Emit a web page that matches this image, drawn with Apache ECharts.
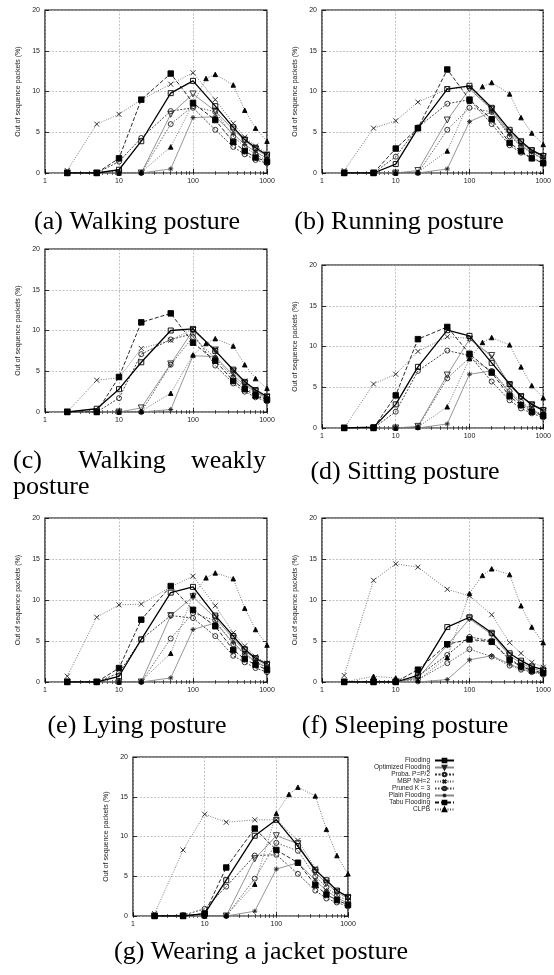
<!DOCTYPE html>
<html>
<head>
<meta charset="utf-8">
<script src="https://cdn.jsdelivr.net/npm/echarts@6/dist/echarts.min.js"></script>
<style>
  html, body { margin: 0; padding: 0; background: #fff; }
  #chart { width: 554px; height: 975px; }
</style>
</head>
<body>
<div id="chart"></div>
<script>
// Network size (number of nodes) sampled on every curve
const xValues = [2, 5, 10, 20, 50, 100, 150, 200, 350, 500, 700, 1000];

const seriesNames = ['Flooding', 'Optimized Flooding', 'Proba. P=P/2', 'MBP NH=2',
                     'Pruned K = 3', 'Plain Flooding', 'Tabu Flooding', 'CLPB'];

const yTicks = [0, 5, 10, 15, 20];

// Out of sequence packets (%), one row per posture (a)..(g); null = not sampled
const flooding = [
  [0, 0, 0.4, 3.9, 9.8, 11.3, null, 8.2, 5.6, 4.1, 3.1, 2.2],
  [0, 0, 1.1, 5.5, 10.3, 10.7, null, 8.0, 5.3, 3.9, 2.8, 2.1],
  [0, 0.4, 2.8, 6.1, 10.0, 10.2, null, 7.5, 5.2, 3.7, 2.7, 1.9],
  [0, 0.1, 2.9, 7.5, 12.0, 11.3, null, 8.0, 5.4, 3.9, 2.9, 2.2],
  [0, 0, 0.7, 5.2, 10.9, 11.6, null, 8.1, 5.6, 4.0, 2.9, 2.2],
  [0, 0, 0, 0.8, 6.7, 7.9, null, 6.0, 3.5, 2.6, 1.9, 1.5],
  [0, 0, 0.3, 4.5, 10.1, 12.1, null, 8.8, 5.8, 4.5, 3.2, 2.4]
];
const optimizedFlooding = [
  [0, 0, 0, 0, 7.2, 9.7, null, 7.6, 5.3, 4.0, 2.9, 2.1],
  [0, 0, 0, 0.3, 6.5, 10.3, null, 7.8, 5.0, 3.7, 2.7, 2.0],
  [0, 0, 0, 0.5, 5.9, 10.0, null, 7.6, 5.0, 3.5, 2.5, 1.8],
  [0, 0, 0, 0.2, 6.5, 10.9, null, 8.9, 5.2, 3.8, 2.8, 2.1],
  [0, 0, 0, 0, 8.1, 10.4, null, 7.8, 5.3, 3.8, 2.8, 2.0],
  [0, 0, 0, 0.5, 4.5, 7.7, null, 5.8, 3.2, 2.3, 1.7, 1.3],
  [0, 0, 0, 0, 7.2, 10.1, null, 9.1, 5.5, 4.1, 3.0, 2.2]
];
const probaHalf = [
  [0, 0, 1.4, 4.3, 7.6, 8.0, null, 5.3, 3.2, 2.3, 1.6, 1.2],
  [0, 0, 2.0, 5.6, 8.5, 9.0, null, 6.0, 3.4, 2.5, 1.8, 1.3],
  [0, 0, 1.7, 7.1, 8.9, 9.6, null, 5.7, 3.5, 2.5, 1.8, 1.3],
  [0, 0, 2.0, 7.0, 9.5, 8.9, null, 5.7, 3.4, 2.4, 1.8, 1.3],
  [0, 0, 1.1, 5.2, 8.1, 7.8, null, 5.6, 3.2, 2.4, 1.7, 1.2],
  [0, 0, 0, 0.7, 3.3, 5.5, null, 5.0, 2.8, 2.0, 1.5, 1.1],
  [0, 0.1, 0.9, 3.7, 7.6, 7.7, null, 5.3, 3.2, 2.2, 1.7, 1.2]
];
const mbpNh2 = [
  [0.3, 6.0, 7.2, 9.0, 10.9, 12.3, null, 9.0, 6.1, 4.4, 3.3, 2.4],
  [0.3, 5.5, 6.4, 8.7, 10.3, 10.5, null, 7.8, 4.8, 3.6, 2.7, 2.0],
  [0, 3.9, 4.2, 7.8, 8.8, 10.2, null, 7.7, 5.0, 3.8, 2.8, 2.0],
  [0, 5.4, 6.6, 9.4, 11.2, 11.0, null, 8.7, 5.4, 4.0, 2.9, 2.1],
  [0.7, 7.9, 9.4, 9.5, 11.6, 12.9, null, 9.3, 6.0, 4.4, 3.1, 2.3],
  [0.8, 12.4, 14.4, 14.0, 11.3, 10.5, null, 8.2, 4.8, 3.5, 2.4, 1.8],
  [0.3, 8.3, 12.8, 11.8, 12.1, 12.1, null, 9.5, 6.0, 4.4, 3.2, 2.4]
];
const prunedK3 = [
  [0, 0, 0, 0, 6.0, 8.2, null, 7.5, 4.5, 3.2, 2.3, 1.5],
  [0, 0, 0, 0, 5.3, 8.0, null, 7.5, 4.5, 3.3, 2.4, 1.7],
  [0, 0, 0, 0, 5.8, 9.2, null, 6.6, 4.2, 3.0, 2.2, 1.6],
  [0, 0, 0, 0.1, 6.1, 8.6, null, 7.0, 4.5, 3.2, 2.3, 1.6],
  [0, 0, 0, 0, 5.3, 8.4, null, 7.5, 4.6, 3.4, 2.4, 1.7],
  [0, 0, 0, 0.3, 2.3, 4.0, null, 3.1, 2.0, 1.5, 1.2, 0.9],
  [0, 0, 0, 0, 4.7, 9.2, null, 8.2, 5.0, 3.6, 2.6, 1.9]
];
const plainFlooding = [
  [0, 0, 0, 0, 0.5, 6.8, null, 6.9, 4.8, 3.5, 2.6, 1.8],
  [0, 0, 0, 0, 0.5, 6.3, null, 7.5, 4.7, 3.4, 2.5, 1.8],
  [0, 0, 0, 0, 0.3, 6.9, null, 6.8, 4.5, 3.3, 2.4, 1.7],
  [0, 0, 0, 0, 0.5, 6.6, null, 7.0, 4.3, 3.0, 2.2, 1.5],
  [0, 0, 0, 0, 0.5, 6.4, null, 7.2, 4.8, 3.5, 2.5, 1.8],
  [0, 0, 0, 0, 0.3, 2.7, null, 3.2, 2.2, 1.6, 1.3, 1.0],
  [0, 0, 0, 0, 0.6, 5.9, null, 6.7, 4.5, 3.2, 2.3, 1.6]
];
const tabuFlooding = [
  [0, 0, 1.8, 9.0, 12.2, 8.6, null, 6.5, 3.8, 2.7, 1.9, 1.4],
  [0, 0, 3.0, 5.5, 12.7, 9.0, null, 6.6, 3.7, 2.7, 1.8, 1.2],
  [0, 0, 4.3, 11.0, 12.1, 8.5, null, 6.3, 3.8, 2.8, 2.0, 1.5],
  [0, 0, 4.0, 10.9, 12.4, 9.1, null, 6.8, 3.9, 2.8, 2.0, 1.5],
  [0, 0, 1.7, 7.6, 11.7, 8.8, null, 6.8, 3.9, 2.8, 2.1, 1.5],
  [0, 0, 0, 1.5, 4.6, 5.2, null, 4.9, 2.7, 1.9, 1.4, 1.1],
  [0, 0, 0.3, 6.1, 11.0, 8.3, null, 6.7, 3.9, 2.7, 2.0, 1.4]
];
const clpb = [
  [0, 0, 0, 0.1, 3.2, 8.5, 11.6, 12.1, 10.8, 7.7, 5.5, 3.9],
  [0, 0, 0, 0.1, 2.7, 8.8, 10.6, 11.1, 9.7, 6.8, 4.9, 3.5],
  [0, 0, 0, 0.1, 2.3, 7.0, 8.4, 9.0, 8.1, 5.8, 4.1, 2.9],
  [0, 0, 0, 0.1, 2.6, 8.5, 10.5, 11.1, 10.2, 7.5, 5.2, 3.7],
  [0, 0, 0, 0.1, 3.5, 10.6, 12.7, 13.3, 12.6, 9.0, 6.4, 4.5],
  [0, 0.7, 0.5, 0.2, 3.0, 10.8, 13.0, 13.8, 13.1, 9.3, 6.7, 4.8],
  [0, 0, 0, 0.1, 4.0, 12.9, 15.3, 16.2, 15.1, 10.9, 7.6, 5.3]
];

const allSeries = [flooding, optimizedFlooding, probaHalf, mbpNh2,
                   prunedK3, plainFlooding, tabuFlooding, clpb];

// ---- layout of the seven panels (plot area in px) ----
const panels = [
  { left: 45,  top: 10,  width: 222, height: 163 },
  { left: 322, top: 10,  width: 222, height: 163 },
  { left: 45,  top: 249, width: 222, height: 163 },
  { left: 322, top: 265, width: 222, height: 163 },
  { left: 45,  top: 518, width: 222, height: 164 },
  { left: 322, top: 518, width: 222, height: 164 },
  { left: 133, top: 757, width: 215, height: 159 }
];

// ---- marker / line styles, in legend order ----
const crossPath = 'path://M0,0L10,10M10,0L0,10';
const starPath = 'path://M0,5L10,5M5,0L5,10M1.5,1.5L8.5,8.5M8.5,1.5L1.5,8.5';
const hollow = 'rgba(0,0,0,0)';
const styles = [
  { symbol: 'rect', symbolSize: 5, fill: hollow, stroke: '#000', line: '#000', width: 1.3, type: 'solid' },
  { symbol: 'triangle', symbolSize: 6, rotate: 180, fill: hollow, stroke: '#222', line: '#8a8a8a', width: 0.9, type: 'solid' },
  { symbol: 'circle', symbolSize: 5, fill: hollow, stroke: '#222', line: '#333', width: 0.9, type: [2, 1.5] },
  { symbol: crossPath, symbolSize: 5, fill: hollow, stroke: '#222', line: '#555', width: 0.8, type: [1, 1.5] },
  { symbol: 'circle', symbolSize: 5, fill: hollow, stroke: '#222', line: '#444', width: 0.8, type: [1.5, 1.5] },
  { symbol: starPath, symbolSize: 5, fill: hollow, stroke: '#222', line: '#8a8a8a', width: 0.9, type: 'solid' },
  { symbol: 'rect', symbolSize: 5.5, fill: '#000', stroke: '#000', line: '#111', width: 0.9, type: [4, 2] },
  { symbol: 'triangle', symbolSize: 4.5, fill: '#000', stroke: '#000', line: '#555', width: 0.8, type: [1, 1.5] }
];

const tickFont = { fontSize: 7, fontFamily: 'Liberation Sans', color: '#222' };
const minorValues = [];
[1, 10, 100].forEach(d => { for (let k = 1; k <= 9; k++) minorValues.push(d * k); });
minorValues.push(1000);

const grid = [], xAxis = [], yAxis = [], series = [];
panels.forEach((box, p) => {
  grid.push({ left: box.left, top: box.top, width: box.width, height: box.height,
              show: true, borderColor: '#000', borderWidth: 1.2, backgroundColor: 'transparent' });
  // main log axis: labels, grid lines, decade ticks
  xAxis.push({
    type: 'log', logBase: 10, gridIndex: p, position: 'bottom', min: 1, max: 1000,
    axisLine: { show: false },
    axisTick: { inside: true, length: 4, lineStyle: { color: '#000', width: 0.8 } },
    axisLabel: Object.assign({ margin: 5, formatter: v => String(Math.round(v)) }, tickFont),
    splitLine: { show: true, lineStyle: { color: '#a8a8a8', width: 0.7, type: [2, 1.5] } }
  });
  // mirrored short ticks on top and bottom borders
  ['top', 'bottom'].forEach(pos => {
    xAxis.push({
      type: 'log', logBase: 10, gridIndex: p, position: pos, min: 1, max: 1000,
      axisLine: { show: false }, splitLine: { show: false },
      axisLabel: { show: false },
      axisTick: { inside: true, length: 2, customValues: minorValues,
                  lineStyle: { color: '#000', width: 0.6 } }
    });
  });
  yAxis.push({
    type: 'value', gridIndex: p, min: 0, max: 20, interval: 5, position: 'left',
    name: 'Out of sequence packets (%)', nameLocation: 'middle', nameGap: 23,
    nameTextStyle: { fontSize: 7, fontFamily: 'Liberation Sans', color: '#222' },
    axisLine: { show: false },
    axisTick: { inside: true, length: 4, lineStyle: { color: '#000', width: 0.8 } },
    axisLabel: Object.assign({ margin: 5, customValues: yTicks }, tickFont),
    splitLine: { show: true, lineStyle: { color: '#a8a8a8', width: 0.7, type: [2, 1.5] } }
  });
  yAxis.push({
    type: 'value', gridIndex: p, min: 0, max: 20, interval: 5, position: 'right',
    axisLine: { show: false }, splitLine: { show: false }, axisLabel: { show: false },
    axisTick: { inside: true, length: 4, lineStyle: { color: '#000', width: 0.8 } }
  });

  allSeries.forEach((rows, s) => {
    const st = styles[s];
    const pts = [];
    xValues.forEach((x, i) => { if (rows[p][i] !== null) pts.push([x, rows[p][i]]); });
    series.push({
      type: 'line', name: seriesNames[s],
      xAxisIndex: p * 3, yAxisIndex: p * 2,
      data: pts,
      symbol: st.symbol, symbolSize: st.symbolSize, symbolRotate: st.rotate || 0,
      showAllSymbol: true,
      itemStyle: { color: st.fill, borderColor: st.stroke, borderWidth: 0.9 },
      lineStyle: { color: st.line, width: st.width, type: st.type },
      emphasis: { disabled: true },
      z: s === 0 ? 5 : 3,
      animation: false
    });
  });
});

// ---- panel captions ----
const captionFont = '26px "Liberation Serif"';
const captions = [
  { text: '(a) Walking posture', x: 137, y: 222 },
  { text: '(b) Running posture', x: 399, y: 222 },
  { text: '(c)', x: 13, y: 461, align: 'left' },
  { text: 'Walking', x: 122, y: 461 },
  { text: 'weakly', x: 266, y: 461, align: 'right' },
  { text: 'posture', x: 13, y: 487, align: 'left' },
  { text: '(d) Sitting posture', x: 405, y: 472 },
  { text: '(e) Lying posture', x: 137, y: 726 },
  { text: '(f) Sleeping posture', x: 405, y: 726 },
  { text: '(g) Wearing a jacket posture', x: 261, y: 952 }
];
const graphic = captions.map(c => ({
  type: 'text', x: c.x, y: c.y, silent: true,
  style: { text: c.text, font: captionFont, fill: '#000',
           align: c.align || 'center', verticalAlign: 'middle' }
}));

const chart = echarts.init(document.getElementById('chart'), null, { renderer: 'canvas' });
chart.setOption({
  animation: false,
  backgroundColor: '#fff',
  grid, xAxis, yAxis, series, graphic,
  legend: {
    data: seriesNames,
    orient: 'vertical', align: 'right',
    right: 99, top: 757,
    padding: 0, itemGap: 0,
    itemWidth: 19, itemHeight: 4.5,
    selectedMode: false,
    textStyle: { fontSize: 6.5, lineHeight: 5.6, fontFamily: 'Liberation Sans', color: '#222' }
  }
});
</script>
</body>
</html>
